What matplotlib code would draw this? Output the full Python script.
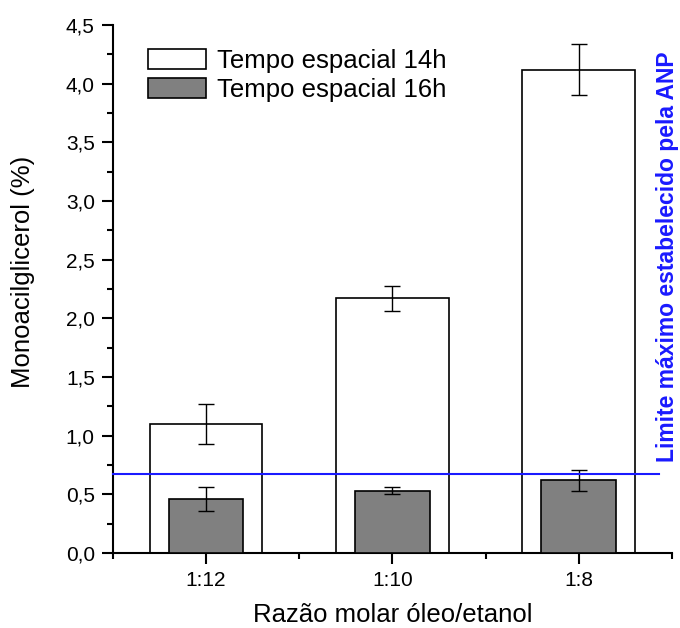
import matplotlib.pyplot as plt
from matplotlib.ticker import MultipleLocator, FuncFormatter
import numpy as np

plt.rcParams['font.family'] = ['Liberation Sans', 'DejaVu Sans']

# Data
razoes = ['1:12', '1:10', '1:8']
mag_14h = [1.10, 2.17, 4.12]
err_14h = [0.17, 0.11, 0.22]
mag_16h = [0.46, 0.53, 0.62]
err_16h = [0.10, 0.03, 0.09]
limite_anp = 0.67

x = np.arange(len(razoes))

fig = plt.figure(figsize=(6.8, 6.28), dpi=100)
ax = fig.add_axes([0.166, 0.1194, 0.822, 0.8407])

# White bars (14h) behind, grey bars (16h) in front
ax.bar(x, mag_14h, width=0.605, color='white', edgecolor='black', linewidth=1.2,
       yerr=err_14h, error_kw=dict(ecolor='black', elinewidth=1, capsize=6, capthick=1),
       label='Tempo espacial 14h', zorder=2)
ax.bar(x, mag_16h, width=0.40, color='#808080', edgecolor='black', linewidth=1.2,
       yerr=err_16h, error_kw=dict(ecolor='black', elinewidth=1, capsize=6, capthick=1),
       label='Tempo espacial 16h', zorder=3)

# ANP limit line
ax.plot([-0.5, 2.43], [limite_anp, limite_anp], color='#1a1aff', linewidth=1.5,
        clip_on=False, zorder=4)
fig.text(0.982, 0.592, 'Limite máximo estabelecido pela ANP', rotation=90,
         color='#1a1aff', fontsize=16.5, fontweight='bold', ha='center', va='center')

ax.set_xlim(-0.5, 2.5)
ax.set_ylim(0, 4.5)
ax.set_xticks(x)
ax.set_xticklabels(razoes)
ax.xaxis.set_minor_locator(MultipleLocator(1, offset=0.5))
ax.yaxis.set_major_locator(MultipleLocator(0.5))
ax.yaxis.set_minor_locator(MultipleLocator(0.25))
ax.yaxis.set_major_formatter(FuncFormatter(lambda v, p: f'{v:.1f}'.replace('.', ',')))

for s in ['top', 'right']:
    ax.spines[s].set_visible(False)
for s in ['left', 'bottom']:
    ax.spines[s].set_linewidth(1.5)

ax.tick_params(which='major', direction='out', length=8, width=1.5, labelsize=15, pad=5)
ax.tick_params(which='minor', direction='out', length=4, width=1.5)

ax.set_xlabel('Razão molar óleo/etanol', fontsize=18.5, labelpad=9)
ax.set_ylabel('Monoacilglicerol (%)', fontsize=18.5)
ax.yaxis.set_label_coords(-0.139, 0.532)

leg = ax.legend(loc='upper left', bbox_to_anchor=(0.045, 0.975), frameon=False,
                fontsize=18.5, handlelength=2.26, handleheight=0.82,
                handletextpad=0.43, labelspacing=0.22, borderaxespad=0)

fig.savefig('out.png', dpi=100)
